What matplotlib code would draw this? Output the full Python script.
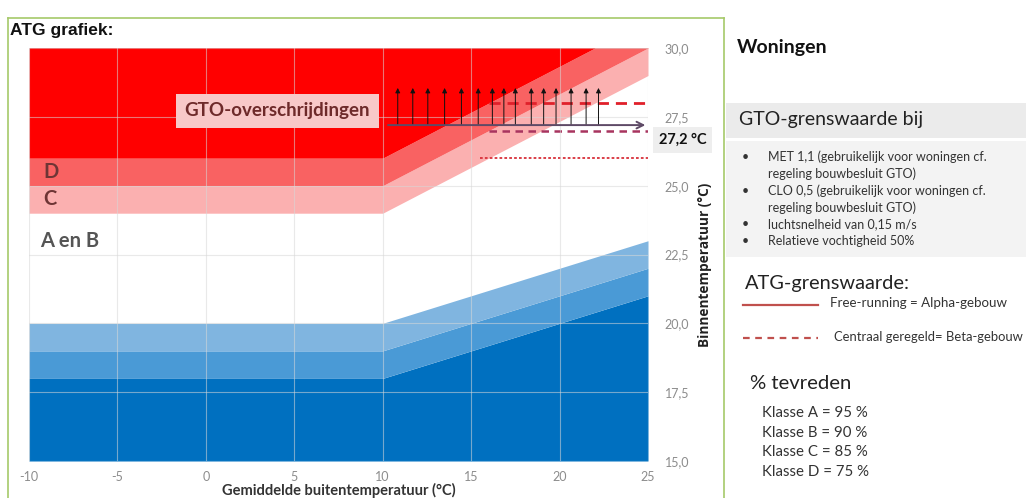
import matplotlib
matplotlib.use("Agg")
import matplotlib.pyplot as plt
from matplotlib.patches import Rectangle
from matplotlib.lines import Line2D
from matplotlib.ticker import FuncFormatter

plt.rcParams["axes.unicode_minus"] = False

# outdoor temperature breakpoints and band boundaries (indoor temperature)
tout = [-10, 10, 25]
blue_dark_top = [18, 18, 21]
blue_mid_top = [19, 19, 22]
blue_light_top = [20, 20, 23]
red_c_bottom = [24, 24, 29]
red_d_bottom = [25, 25, 30]
red_top_bottom = [26, 26, 31]

# GTO limit and exceedance markers
gto_limit = 27.2
gto_arrow_x = [10.85, 11.7, 12.55, 13.5, 14.45, 15.4, 16.2, 16.85, 17.5,
               18.4, 19.1, 19.8, 20.65, 21.5, 22.2]
gto_arrow_top = 28.55
beta_line_y = 28.0
beta_line2_y = 27.0
dotted_line_y = 26.0
line_x_start = [16.0, 16.0, 15.5]

x_ticks = [-10, -5, 0, 5, 10, 15, 20, 25]
y_ticks = [15, 17.5, 20, 22.5, 25, 27.5, 30]

bullets = [["MET 1,1 (gebruikelijk voor woningen cf.", "regeling bouwbesluit GTO)"],
           ["CLO 0,5 (gebruikelijk voor woningen cf.", "regeling bouwbesluit GTO)"],
           ["luchtsnelheid van 0,15 m/s"],
           ["Relatieve vochtigheid 50%"]]
klassen = ["Klasse A = 95 %", "Klasse B = 90 %", "Klasse C = 85 %", "Klasse D = 75 %"]

FONT = "Lato"
W, H = 1026, 498


def fx(px):
    return px / W


def fy(py):
    return 1 - py / H


fig = plt.figure(figsize=(W / 100, H / 100), dpi=100)
fig.patch.set_facecolor("white")

ax = fig.add_axes([fx(29), fy(461), fx(648) - fx(29), fy(48) - fy(461)])
ax.set_xlim(-10, 25)
ax.set_ylim(15, 30)

# blue bands (too cold)
ax.fill_between(tout, 15, blue_dark_top, color="#0070c0", lw=0)
ax.fill_between(tout, blue_dark_top, blue_mid_top, color="#4a9ad6", lw=0)
ax.fill_between(tout, blue_mid_top, blue_light_top, color="#80b5e0", lw=0)
# red bands (too warm)
ax.fill_between(tout, red_c_bottom, red_d_bottom, color="#fbb0b0", lw=0)
ax.fill_between(tout, red_d_bottom, red_top_bottom, color="#f96262", lw=0)
ax.fill_between(tout, red_top_bottom, 31, color="#ff0000", lw=0)

ax.set_xticks(x_ticks)
ax.set_yticks(y_ticks)
ax.yaxis.set_major_formatter(FuncFormatter(lambda v, p: f"{v:.1f}".replace(".", ",")))
ax.yaxis.tick_right()
ax.tick_params(axis="both", length=0, labelsize=9, labelcolor="#8c8c8c")
ax.tick_params(axis="y", pad=12)
ax.tick_params(axis="x", pad=7)
for lab in ax.get_xticklabels() + ax.get_yticklabels():
    lab.set_fontfamily(FONT)
ax.grid(True, color="#d8d8d8", lw=0.8, alpha=0.55)
ax.set_axisbelow(False)
for s in ax.spines.values():
    s.set_visible(False)

ax.set_xlabel("Gemiddelde buitentemperatuur (°C)", fontsize=10.5, fontweight="bold",
              color="#333333", family=FONT, labelpad=0)
ax.yaxis.set_label_position("right")
ax.set_ylabel("Binnentemperatuur (°C)", fontsize=9.8, fontweight="bold", color="#222222",
              family="Open Sans")
ax.yaxis.set_label_coords(1.08, 0.475)

# class labels
ax.text(-9.2, 25.5, "D", fontsize=14.5, fontweight="bold", color="#6e3535", family=FONT, va="center")
ax.text(-9.2, 24.5, "C", fontsize=14.5, fontweight="bold", color="#6e3535", family=FONT, va="center")
ax.text(-9.4, 23.0, "A en B", fontsize=14.5, fontweight="bold", color="#555555", family=FONT, va="center")

# GTO lines
ax.plot([line_x_start[0], 25], [beta_line_y] * 2, color="#e0202a", lw=2, dashes=(4, 2.5))
ax.plot([line_x_start[1], 25], [beta_line2_y] * 2, color="#a8345f", lw=1.8, dashes=(3, 2.2))
ax.plot([line_x_start[2], 25], [dotted_line_y] * 2, color="#d8303a", lw=1.3, dashes=(1.5, 1.2))

# exceedance arrows
for xa in gto_arrow_x:
    ax.annotate("", xy=(xa, gto_arrow_top), xytext=(xa, gto_limit),
                arrowprops=dict(arrowstyle="-|>", color="#111111", lw=0.7,
                                mutation_scale=7, shrinkA=0, shrinkB=0))
ax.annotate("", xy=(24.85, gto_limit), xytext=(10.3, gto_limit),
            arrowprops=dict(arrowstyle="->", color="#5e4a66", lw=1.4,
                            mutation_scale=12, shrinkA=0, shrinkB=0))

ax.text(4.05, 27.72, "GTO-overschrijdingen", fontsize=13.5, fontweight="bold",
        color="#6e2a2a", family=FONT, ha="center", va="center",
        bbox=dict(boxstyle="square,pad=0.45", fc="#f8c8c8", ec="none"))

# 27,2 label
ax.text(1.017, 26.65, "27,2 °C", transform=ax.get_yaxis_transform(), fontsize=10.5,
        fontweight="bold", color="#111111", family=FONT, va="center", ha="left",
        bbox=dict(boxstyle="square,pad=0.4", fc="#eeeeee", ec="none"), zorder=5)

# frame of the chart panel
for xs, ys in [([8, 8], [18, 498]), ([8, 724], [18, 18]), ([724, 724], [18, 498])]:
    fig.lines.append(Line2D([fx(v) for v in xs], [fy(v) for v in ys],
                            transform=fig.transFigure, color="#a6c96a", lw=1.2))
fig.text(fx(10), fy(31), "ATG grafiek:", fontsize=12.5, fontweight="bold",
         family="Liberation Sans", va="center", color="#111111")

# right panel
fig.text(fx(737), fy(47), "Woningen", fontsize=14, fontweight="bold", family=FONT,
         va="center", color="#111111")
fig.patches.append(Rectangle((fx(726), fy(138)), fx(1026) - fx(726), fy(103) - fy(138),
                             transform=fig.transFigure, fc="#ebebeb", ec="none"))
fig.patches.append(Rectangle((fx(726), fy(257)), fx(1026) - fx(726), fy(141) - fy(257),
                             transform=fig.transFigure, fc="#f3f3f3", ec="none"))
fig.text(fx(739), fy(120), "GTO-grenswaarde bij", fontsize=14, family=FONT,
         va="center", color="#222222")
line_y = 157
for lines in bullets:
    fig.text(fx(742), fy(line_y), "•", fontsize=9, family=FONT, va="center", color="#333333")
    for ln in lines:
        fig.text(fx(768), fy(line_y), ln, fontsize=9, family=FONT, va="center", color="#333333")
        line_y += 16.8

fig.text(fx(745), fy(284), "ATG-grenswaarde:", fontsize=14.4, family=FONT, va="center", color="#222222")
fig.lines.append(Line2D([fx(743), fx(818)], [fy(305), fy(305)], transform=fig.transFigure,
                        color="#c0504d", lw=1.6))
fig.lines.append(Line2D([fx(743), fx(818)], [fy(338), fy(338)], transform=fig.transFigure,
                        color="#c0504d", lw=1.6, dashes=(3, 2.5)))
fig.text(fx(830), fy(303), "Free-running = Alpha-gebouw", fontsize=9.6, family=FONT,
         va="center", color="#333333")
fig.text(fx(834), fy(337), "Centraal geregeld= Beta-gebouw", fontsize=9.4, family=FONT,
         va="center", color="#333333")

fig.text(fx(750), fy(383), "% tevreden", fontsize=14.6, family=FONT, va="center", color="#222222")
for i, k in enumerate(klassen):
    fig.text(fx(762), fy(413 + 19.5 * i), k, fontsize=10.8, family=FONT, va="center", color="#333333")

fig.savefig("out.png", dpi=100)
